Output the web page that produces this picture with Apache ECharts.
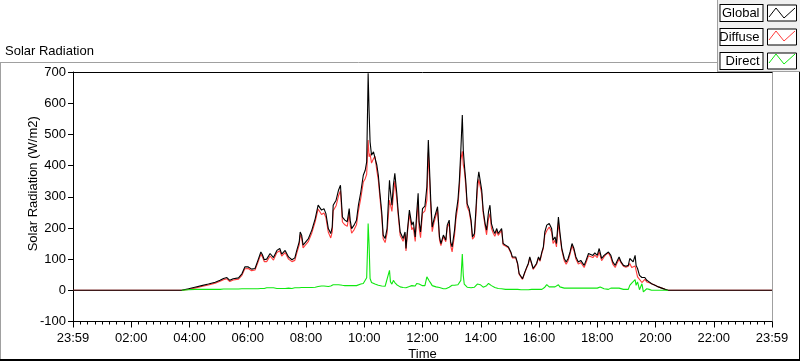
<!DOCTYPE html>
<html><head><meta charset="utf-8">
<script src="https://cdn.jsdelivr.net/npm/echarts@6/dist/echarts.min.js"></script>
<style>html,body{margin:0;padding:0;background:#fff}#c{width:800px;height:361px}</style>
</head><body><div id="c"></div>
<script>
// time in minutes after midnight (-1 = 23:59 of previous day)
const times = [-1,209,223,237,250,264,278,292,302,309,316,322,329,340,347,353,360,367,374,380,386,389,393,398,405,412,419,425,429,436,443,450,456,460,465,
467,470,473,477,484,491,498,504,508,511,516,520,525,530,533,535,541,546,550,554,559,564,568,570,573,578,583,587,592,597,601,604,606,607,609,611,614,618,621,625,628,631,635,638,642,646,651,653,656,659,662,666,669,673,676,679,683,685,688,692,697,700,704,707,710,712,715,719,
724,728,731,733,736,739,743,747,750,754,757,762,767,770,774,777,780,785,788,792,795,798,801,803,805,808,811,815,819,822,826,829,832,835,838,841,844,848,851,855,858,861,865,868,872,875,879,882,885,890,896,901,904,908,911,915,918,922,925,930,934,937,940,944,947,951,954,958,961,965,968,971,975,980,
982,985,988,992,995,999,1002,1006,1011,1015,1019,1023,1027,1031,1035,1040,1045,1049,1052,1056,1061,1064,1070,1074,1079,1083,1085,1088,1093,1097,1102,1107,1111,1116,1119,1124,1128,1133,1138,1143,1146,1150,1153,1157,1159,1162,1166,1171,1174,1177,1181,1186,1191,1198,1205,1212,1219,1225,1439];

const globalVals = [0,0,0,5,10,15,20,26,32,38,41,32,37,40,53,75,75,68,70,96,123,115,98,100,118,105,128,134,116,128,107,98,104,128,155,
187,177,145,150,166,193,230,273,270,257,262,246,198,182,203,273,289,321,337,235,225,220,262,225,198,209,225,273,316,369,385,412,594,696,573,476,433,444,450,401,369,316,251,177,166,198,353,316,273,337,375,311,251,187,182,166,187,134,193,257,209,220,171,246,311,220,187,262,
270,332,482,407,289,203,230,225,268,171,150,177,161,209,225,155,139,193,246,289,353,450,562,450,407,353,278,262,225,171,182,257,343,380,375,321,257,214,193,252,273,214,193,182,198,182,177,198,150,145,139,123,107,112,107,86,54,48,37,59,75,86,107,86,70,75,86,107,96,123,139,187,209,214,
214,198,161,171,150,235,187,134,102,91,102,123,150,134,107,91,96,102,80,96,118,118,112,120,112,134,128,102,112,118,123,112,91,80,91,107,91,80,77,80,102,96,91,112,80,70,48,41,37,41,32,27,21,16,11,7,3,0,0];

const diffuseVals = [0,0,0,3,7,12,17,23,29,34,37,28,33,36,48,69,70,63,65,90,116,108,92,92,110,97,121,127,110,121,100,92,96,119,146,
178,168,136,141,157,184,220,261,256,243,248,233,186,168,187,255,271,303,319,219,210,205,247,210,183,194,210,255,296,347,358,372,449,482,428,438,408,422,430,383,353,302,237,165,153,183,289,289,253,305,350,293,239,176,172,157,179,126,184,245,194,202,157,224,284,200,169,247,
255,289,442,377,266,188,219,214,257,162,143,172,156,201,215,143,123,177,230,271,333,418,446,402,387,339,268,253,217,164,172,242,323,356,357,309,247,205,178,230,246,199,182,173,191,176,172,193,146,142,136,120,104,109,104,83,52,46,35,57,73,84,104,83,67,72,83,104,93,120,134,177,191,203,
203,187,150,160,139,217,176,129,95,84,95,116,143,127,100,84,89,95,73,89,111,111,105,113,105,123,117,95,107,115,120,105,84,73,84,100,88,77,74,77,86,73,73,78,64,43,35,25,30,35,27,24,21,16,11,7,3,0,0];

const directVals = [null,null,0,2,3,3,3,3,3,4,4,4,4,4,5,5,5,5,5,5,6,6,6,8,8,8,6,6,6,6,7,6,8,8,8,
9,9,9,9,9,9,10,12,14,14,14,13,12,14,16,18,18,18,18,16,15,15,15,15,15,15,15,18,20,22,27,40,145,214,145,38,25,22,20,18,16,14,14,12,13,15,64,27,20,32,25,18,12,11,10,9,8,8,9,12,15,18,14,22,27,20,18,15,
15,43,40,30,23,15,11,11,11,9,7,5,5,8,10,12,16,16,16,18,20,32,116,48,20,14,10,9,8,7,10,15,20,24,18,12,10,9,15,22,27,15,11,9,7,6,5,5,4,3,3,3,3,3,3,3,2,2,2,2,2,2,3,3,3,3,3,3,3,3,5,10,18,11,
11,11,11,11,11,18,11,5,7,7,7,7,7,7,7,7,7,7,7,7,7,7,7,7,7,11,11,7,5,3,3,7,7,7,7,7,3,3,3,3,16,23,18,34,16,27,2,21,-5,-8,5,3,0,0,0,0,0,0,null];

const xTickLabels = ['23:59','02:00','04:00','06:00','08:00','10:00','12:00','14:00','16:00','18:00','20:00','22:00','23:59'];

const seriesNames = ['Global','Diffuse','Direct'];
const seriesColors = ['#000000','#ff3b3b','#10e810'];

const FONT = "'Liberation Sans Narrow', 'Liberation Sans', sans-serif";
const FS = 13;
const pair = v => times.map((t,i)=>[t, v[i]]);

const chart = echarts.init(document.getElementById('c'), null, {renderer:'canvas'});
const legTop = 4, legPitch = 23, iconX = 768;
const zig = (row) => [[iconX+1, legTop+row*legPitch+13],[iconX+8, legTop+row*legPitch+4],[iconX+16, legTop+row*legPitch+14],[iconX+27, legTop+row*legPitch+4]];
chart.setOption({
  animation:false,
  backgroundColor:'#fff',
  title:{text:'Solar Radiation', left:0, top:40, textStyle:{fontFamily:FONT, fontSize:FS, fontWeight:'normal', color:'#000'}},
  grid:{left:73, right:28, top:72, bottom:39.5, show:false, outerBoundsMode:'none', containLabel:false},
  legend:{
    orient:'vertical', right:3, top:legTop, padding:0, align:'right', itemGap:6, itemWidth:29, itemHeight:16, z:20,
    icon:'rect', itemStyle:{color:'#fff', borderColor:'#000', borderWidth:1}, lineStyle:{width:0, opacity:0},
    textStyle:{fontFamily:FONT, fontSize:FS, color:'#000', backgroundColor:'#fff', borderColor:'#000', borderWidth:1, width:36, height:16, lineHeight:16, padding:[0,3,0,3]},
    data:seriesNames, selectedMode:false
  },
  xAxis:[
    {type:'value', min:-1, max:1439, interval:120, position:'bottom',
      name:'Time', nameLocation:'middle', nameGap:26, nameMoveOverlap:false,
      nameTextStyle:{fontFamily:FONT, fontSize:FS, color:'#000'},
      axisLine:{show:true, onZero:false, lineStyle:{color:'#000', width:1}},
      axisTick:{show:true, inside:false, length:6, lineStyle:{color:'#000'}},
      minorTick:{show:true, splitNumber:8, length:3, lineStyle:{color:'#000'}},
      axisLabel:{show:true, showMinLabel:true, showMaxLabel:true, margin:10, fontFamily:FONT, fontSize:FS, color:'#000',
        formatter:(v, i)=>xTickLabels[Math.round((v+1)/120)]},
      splitLine:{show:false}, minorSplitLine:{show:false}},
    {type:'value', min:-1, max:1439, position:'top',
      axisLine:{show:true, onZero:false, lineStyle:{color:'#000'}}, axisTick:{show:false}, axisLabel:{show:false}, splitLine:{show:false}}
  ],
  yAxis:[
    {type:'value', min:-100, max:700, interval:100, position:'left',
      name:'Solar Radiation (W/m2)', nameLocation:'middle', nameGap:33, nameMoveOverlap:false,
      nameTextStyle:{fontFamily:FONT, fontSize:FS, color:'#000', padding:[0,0,0,26]},
      axisLine:{show:true, onZero:false, lineStyle:{color:'#000'}},
      axisTick:{show:true, length:5, lineStyle:{color:'#000'}},
      axisLabel:{fontFamily:FONT, fontSize:FS, color:'#000', margin:7},
      splitLine:{show:false}},
    {type:'value', min:-100, max:700, interval:100, position:'right',
      axisLine:{show:true, onZero:false, lineStyle:{color:'#a0a0a0'}}, axisTick:{show:false}, axisLabel:{show:false}, splitLine:{show:false}}
  ],
  series:[
    {name:'Diffuse', type:'line', data:pair(diffuseVals), showSymbol:false, symbol:'none', color:seriesColors[1], lineStyle:{width:1.1, color:seriesColors[1]}, z:2},
    {name:'Global', type:'line', data:pair(globalVals), showSymbol:false, symbol:'none', color:seriesColors[0], lineStyle:{width:1.1, color:seriesColors[0]}, z:3},
    {name:'Direct', type:'line', data:pair(directVals), showSymbol:false, symbol:'none', connectNulls:false, color:seriesColors[2], lineStyle:{width:1.1, color:seriesColors[2]}, z:4}
  ],
  graphic:[
    {type:'line', shape:{x1:0, y1:62.5, x2:717, y2:62.5}, style:{stroke:'#a0a0a0', lineWidth:1}, z:10},
    {type:'line', shape:{x1:0.5, y1:62, x2:0.5, y2:361}, style:{stroke:'#a0a0a0', lineWidth:1}, z:10},
    {type:'rect', shape:{x:0, y:359, width:800, height:2}, style:{fill:'#000'}, z:10},
    {type:'rect', shape:{x:799, y:71, width:1, height:290}, style:{fill:'#000'}, z:10},
    {type:'rect', shape:{x:717, y:0, width:83, height:71}, style:{fill:'#f0f0f0'}, z:10},
    {type:'line', shape:{x1:717.5, y1:0, x2:717.5, y2:71}, style:{stroke:'#a0a0a0', lineWidth:1}, z:10},
    {type:'line', shape:{x1:717, y1:71.5, x2:800, y2:71.5}, style:{stroke:'#a0a0a0', lineWidth:1}, z:10},
    {type:'polyline', shape:{points:zig(0)}, style:{stroke:seriesColors[0], lineWidth:1, fill:null}, z:30},
    {type:'polyline', shape:{points:zig(1)}, style:{stroke:seriesColors[1], lineWidth:1, fill:null}, z:30},
    {type:'polyline', shape:{points:zig(2)}, style:{stroke:seriesColors[2], lineWidth:1, fill:null}, z:30}
  ]
});
</script></body></html>
